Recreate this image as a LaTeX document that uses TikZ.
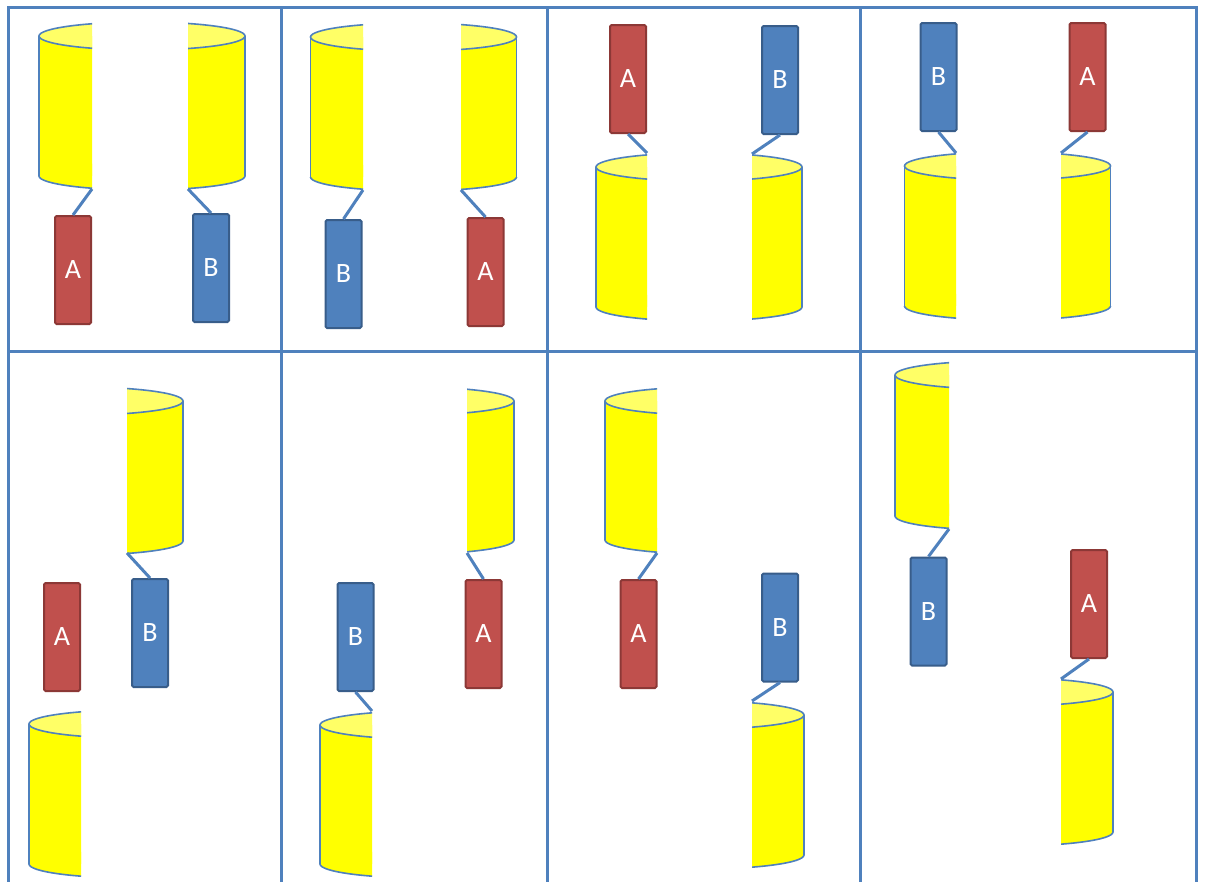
\documentclass[tikz,border=0pt]{standalone}
\usepackage{fontspec}
\newfontfamily\boxfont{Carlito}
\usepackage{tikz}
\usetikzlibrary{arrows.meta,positioning}

\definecolor{frameblue}{HTML}{4F81BD}
\definecolor{redfill}{HTML}{C0504D}
\definecolor{redline}{HTML}{8C3836}
\definecolor{bluefill}{HTML}{4F81BD}
\definecolor{blueline}{HTML}{385D8A}
\definecolor{cylyellow}{HTML}{FFFF00}
\definecolor{cyltopyellow}{HTML}{FFFF66}

% part of a cylinder: centre x, top y, bottom y, visible from x, to x
\newcommand{\cylpart}[5]{%
  \begin{scope}
    \clip (#4,#2-20) rectangle (#5,#3+20);
    \fill[cylyellow] (#1-103,#2) rectangle (#1+103,#3);
    \fill[cylyellow] (#1,#3) ellipse (103 and 14);
    \begin{scope}
      \clip (#1-110,#3) rectangle (#1+110,#3+20);
      \draw[cylline] (#1,#3) ellipse (103 and 14);
    \end{scope}
    \draw[cylline] (#1-103,#2) -- (#1-103,#3) (#1+103,#2) -- (#1+103,#3);
    \filldraw[cylline, fill=cyltopyellow] (#1,#2) ellipse (103 and 14);
  \end{scope}}

\begin{document}
\begin{tikzpicture}[x=1pt, y=-1pt,
    cylline/.style={draw=frameblue, line width=1.6pt},
    frame/.style={draw=frameblue, line width=3pt},
    link/.style={draw=frameblue, line width=3pt},
    box/.style={draw, line width=2pt, rounded corners=1.5pt, minimum width=36pt,
                minimum height=108pt, inner sep=0pt, text=white,
                font=\boxfont\fontsize{28}{32}\selectfont},
    boxA/.style={box, fill=redfill, draw=redline},
    boxB/.style={box, fill=bluefill, draw=blueline},
]
\clip (0,0) rectangle (1205,881);
\fill[white] (0,0) rectangle (1205,881);

% frames
\draw[frame] (8,7) rectangle (1196,900);
\draw[frame] (281,7) -- (281,900) (547,7) -- (547,900) (860,7) -- (860,900);
\draw[frame] (8,351) -- (1196,351);

% cylinders, top row
\cylpart{142}{36}{176}{25}{92}
\cylpart{142}{36}{176}{188}{260}
\cylpart{413.5}{37}{177}{295}{363}
\cylpart{413.5}{37}{177}{461}{530}
\cylpart{699}{167}{307}{580}{647}
\cylpart{699}{167}{307}{752}{820}
\cylpart{1007.5}{166}{306}{890}{956}
\cylpart{1007.5}{166}{306}{1061}{1125}
% cylinders, bottom row
\cylpart{80}{401}{541}{127}{195}
\cylpart{132}{724}{864}{15}{81}
\cylpart{411}{401}{540}{467}{530}
\cylpart{423}{725}{864}{305}{372}
\cylpart{708}{401}{540}{590}{657}
\cylpart{701}{715}{855}{752}{820}
\cylpart{998}{375}{516}{880}{949}
\cylpart{1010}{692}{832}{1061}{1125}

% cut corners
\coordinate (c1l) at (92,189);
\coordinate (c1r) at (188,189);
\coordinate (c2l) at (363,190);
\coordinate (c2r) at (461,190);
\coordinate (c3l) at (647,153);
\coordinate (c3r) at (752,154);
\coordinate (c4l) at (956,153);
\coordinate (c4r) at (1061,153);
\coordinate (c5u) at (127,553);
\coordinate (c6u) at (467,553);
\coordinate (c6d) at (372,711);
\coordinate (c7u) at (657,553);
\coordinate (c7d) at (752,701);
\coordinate (c8u) at (949,529);
\coordinate (c8d) at (1061,679);

% boxes
\node[boxA] (a1) at (73,270) {A};
\node[boxB] (b1) at (211,268) {B};
\node[boxB] (b2) at (343.5,274) {B};
\node[boxA] (a2) at (485.5,272) {A};
\node[boxA] (a3) at (628,79) {A};
\node[boxB] (b3) at (780,80) {B};
\node[boxB] (b4) at (938.5,77) {B};
\node[boxA] (a4) at (1087.5,77) {A};
\node[boxA] (a5) at (62,637) {A};
\node[boxB] (b5) at (150,633) {B};
\node[boxB] (b6) at (355.5,637) {B};
\node[boxA] (a6) at (483.5,634) {A};
\node[boxA] (a7) at (638.5,634) {A};
\node[boxB] (b7) at (780,627.5) {B};
\node[boxB] (b8) at (928.5,611.5) {B};
\node[boxA] (a8) at (1089,604) {A};

% links
\draw[link] (c1l) -- (a1.north);
\draw[link] (c1r) -- (b1.north);
\draw[link] (c2l) -- (b2.north);
\draw[link] (c2r) -- (a2.north);
\draw[link] (a3.south) -- (c3l);
\draw[link] (b3.south) -- (c3r);
\draw[link] (b4.south) -- (c4l);
\draw[link] (a4.south) -- (c4r);
\draw[link] (c5u) -- (b5.north);
\draw[link] (c6u) -- (a6.north);
\draw[link] (b6.south) -- (c6d);
\draw[link] (c7u) -- (a7.north);
\draw[link] (b7.south) -- (c7d);
\draw[link] (c8u) -- (b8.north);
\draw[link] (a8.south) -- (c8d);
\end{tikzpicture}
\end{document}
